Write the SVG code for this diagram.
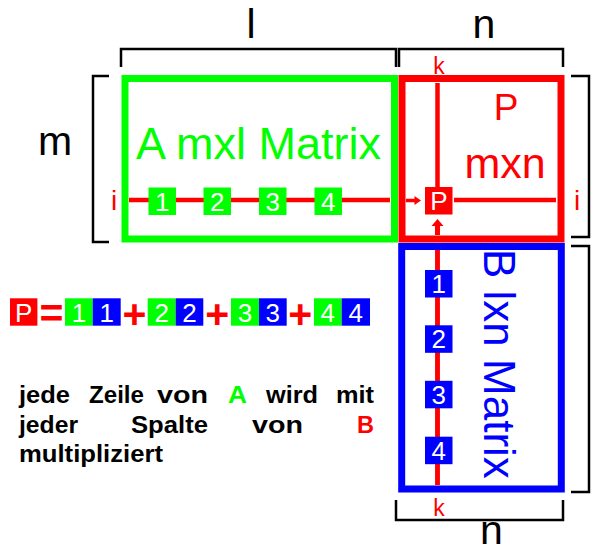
<svg xmlns="http://www.w3.org/2000/svg" width="591" height="548" viewBox="0 0 591 548">
<style>
text{font-family:"Liberation Sans",Arial,sans-serif}
.frame{fill:none;stroke-width:7}
.brk{fill:none;stroke:#000;stroke-width:2.5}
.lbl{font-size:41px;fill:#000;text-anchor:middle}
.idx{font-size:23px;fill:#f00;text-anchor:middle}
.ii{font-size:28px;fill:#f00;text-anchor:middle}
.dig{font-size:26px;fill:#fff;text-anchor:middle}
.g{fill:#00ff00}
.b{fill:#0000ff}
.r{fill:#ff0000}
.rl{stroke:#ff0000;stroke-width:4.5;fill:none}
.op{font-size:41px;font-weight:bold;fill:#f00;text-anchor:middle}
.cap{font-size:23.5px;font-weight:bold;fill:#000}
.cap.cg{fill:#00ff00}
.cap.cr{fill:#ff0000}
</style>
<rect width="591" height="548" fill="#fff"/>
<g id="brackets">
<path class="brk" d="M121,67 V49 H396 V67"/>
<path class="brk" d="M399,67 V49 H563 V67"/>
<path class="brk" d="M109,76 H93 V242 H109"/>
<path class="brk" d="M571,76 H589 V237 H571"/>
<path class="brk" d="M571,246 H589 V492 H571"/>
<path class="brk" d="M396,500 V520 H563 V500"/>
<text class="lbl" x="251" y="38">l</text>
<text class="lbl" x="484" y="37.5">n</text>
<text class="lbl" x="55" y="155">m</text>
<text class="lbl" x="491.5" y="544">n</text>
</g>
<g id="connectors">
<line class="rl" x1="129" y1="200" x2="390" y2="200"/>
<line class="rl" x1="454" y1="200" x2="556" y2="200"/>
<line class="rl" x1="437.5" y1="83" x2="437.5" y2="187"/>
<line class="rl" x1="437.5" y1="250" x2="437.5" y2="485"/>
<line stroke="#f00" stroke-width="3.5" x1="406" y1="200.5" x2="416" y2="200.5"/>
<polygon class="r" points="414.5,196 421,200.5 414.5,205"/>
<line stroke="#f00" stroke-width="5" x1="437.5" y1="235" x2="437.5" y2="224"/>
<polygon class="r" points="431.5,226 443.5,226 437.5,219"/>
</g>
<g id="matrixA">
<rect class="frame" stroke="#00ff00" x="125" y="78.5" width="269.5" height="160.5"/>
<text x="136" y="159.3" font-size="45" fill="#00ff00">A mxl Matrix</text>
<text class="ii" x="114" y="210">i</text>
<rect class="g" x="148.5" y="187.5" width="27.5" height="27.5"/>
<rect class="g" x="203.5" y="187.5" width="27.5" height="27.5"/>
<rect class="g" x="259" y="187.5" width="27.5" height="27.5"/>
<rect class="g" x="314.5" y="187.5" width="27.5" height="27.5"/>
<text class="dig" x="162.3" y="210.5">1</text>
<text class="dig" x="217.3" y="210.5">2</text>
<text class="dig" x="272.8" y="210.5">3</text>
<text class="dig" x="328.3" y="210.5">4</text>
</g>
<g id="matrixP">
<rect class="frame" stroke="#ff0000" x="402" y="78.5" width="159" height="160.5"/>
<text x="506" y="120" font-size="37" fill="#f00" text-anchor="middle">P</text>
<text x="505" y="178.3" font-size="43" fill="#f00" text-anchor="middle">mxn</text>
<text class="idx" x="439" y="73.5">k</text>
<text class="ii" x="577" y="209.5">i</text>
<rect class="r" x="425" y="187" width="27.5" height="27.5"/>
<text class="dig" x="438.8" y="210">P</text>
</g>
<g id="matrixB">
<rect class="frame" stroke="#0000ff" x="401.7" y="246.5" width="159.6" height="242.5"/>
<line class="rl" x1="437.5" y1="250" x2="437.5" y2="485"/>
<rect class="b" x="425" y="270" width="27.5" height="27.5"/>
<rect class="b" x="425" y="325.3" width="27.5" height="27.5"/>
<rect class="b" x="425" y="380.8" width="27.5" height="27.5"/>
<rect class="b" x="425" y="436.7" width="27.5" height="27.5"/>
<text class="dig" x="438.8" y="293">1</text>
<text class="dig" x="438.8" y="348.3">2</text>
<text class="dig" x="438.8" y="403.8">3</text>
<text class="dig" x="438.8" y="459.7">4</text>
<text transform="translate(483.5,249) rotate(90)" font-size="44" fill="#0000ff">B lxn Matrix</text>
<text class="idx" x="439" y="515.5">k</text>
</g>
<g id="formula">
<rect class="r" x="10" y="298.3" width="27.4" height="27.4"/>
<text class="dig" x="23.7" y="321.5">P</text>
<text class="op" x="51.5" y="326.5">=</text>
<rect class="g" x="65" y="298.3" width="27.7" height="27.4"/>
<rect class="b" x="92.7" y="298.3" width="28" height="27.4"/>
<text class="dig" x="78.9" y="321.5">1</text>
<text class="dig" x="106.7" y="321.5">1</text>
<text class="op" x="134.5" y="328">+</text>
<rect class="g" x="147.7" y="298.3" width="28" height="27.4"/>
<rect class="b" x="175.7" y="298.3" width="27.6" height="27.4"/>
<text class="dig" x="161.7" y="321.5">2</text>
<text class="dig" x="189.5" y="321.5">2</text>
<text class="op" x="217.2" y="328">+</text>
<rect class="g" x="231" y="298.3" width="28" height="27.4"/>
<rect class="b" x="259" y="298.3" width="27.7" height="27.4"/>
<text class="dig" x="245" y="321.5">3</text>
<text class="dig" x="272.8" y="321.5">3</text>
<text class="op" x="300.3" y="328">+</text>
<rect class="g" x="314" y="298.3" width="27.7" height="27.4"/>
<rect class="b" x="341.7" y="298.3" width="28.3" height="27.4"/>
<text class="dig" x="327.8" y="321.5">4</text>
<text class="dig" x="355.8" y="321.5">4</text>
</g>
<g id="caption">
<text class="cap" x="19" y="403" textLength="51" lengthAdjust="spacingAndGlyphs">jede</text>
<text class="cap" x="89" y="403" textLength="55" lengthAdjust="spacingAndGlyphs">Zeile</text>
<text class="cap" x="157" y="403" textLength="51" lengthAdjust="spacingAndGlyphs">von</text>
<text class="cap cg" x="228" y="403" textLength="19" lengthAdjust="spacingAndGlyphs">A</text>
<text class="cap" x="266" y="403" textLength="52" lengthAdjust="spacingAndGlyphs">wird</text>
<text class="cap" x="336" y="403" textLength="38" lengthAdjust="spacingAndGlyphs">mit</text>
<text class="cap" x="19" y="433" textLength="59" lengthAdjust="spacingAndGlyphs">jeder</text>
<text class="cap" x="131" y="433" textLength="77" lengthAdjust="spacingAndGlyphs">Spalte</text>
<text class="cap" x="252" y="433" textLength="51" lengthAdjust="spacingAndGlyphs">von</text>
<text class="cap cr" x="357" y="433" textLength="17" lengthAdjust="spacingAndGlyphs">B</text>
<text class="cap" x="19" y="462" textLength="144" lengthAdjust="spacingAndGlyphs">multipliziert</text>
</g>
</svg>
